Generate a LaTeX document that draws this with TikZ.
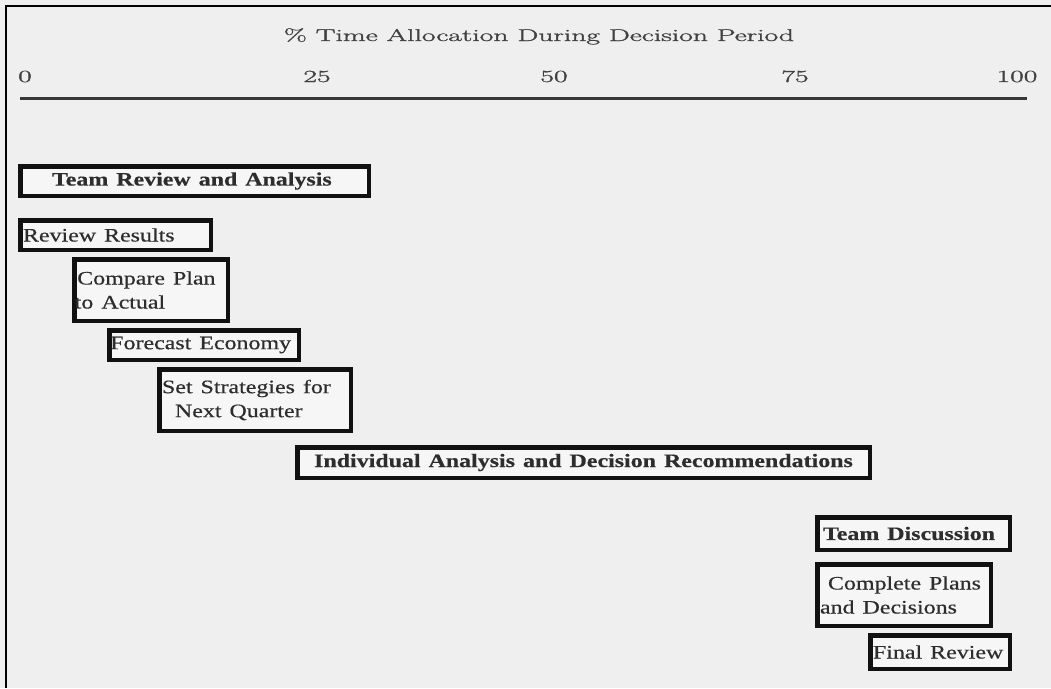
\documentclass[tikz,border=0pt]{standalone}
\usepackage{fontspec}
\usepackage{graphicx}
\newfontfamily\boxfont{Liberation Serif}[FakeBold=0.4]
\newfontfamily\lblfont{Latin Modern Roman}[FakeBold=1.2]
\definecolor{bgc}{RGB}{239,239,239}
\definecolor{boxfill}{RGB}{246,246,246}
\definecolor{boxline}{RGB}{17,17,17}
\definecolor{txtc}{RGB}{45,45,45}
\definecolor{lblc}{RGB}{65,65,65}
\definecolor{axisc}{RGB}{55,55,55}
\newcommand\sx[1]{\scalebox{1.26}[1]{#1}}
\newcommand\tx[1]{\scalebox{1.74}[1]{#1}}
\begin{document}
\begin{tikzpicture}[x=1pt,y=-1pt,
  box/.style={draw=boxline, line width=4.5pt, fill=boxfill, inner ysep=0pt,
    font=\boxfont\fontsize{19}{24}\selectfont, text=txtc, align=left},
  lbl/.style={font=\lblfont\fontsize{17}{20}\selectfont, text=lblc, inner sep=0pt, anchor=base},
  axisline/.style={draw=axisc, line width=3pt},
  frame/.style={draw=black, line width=1.5pt}
]
\fill[bgc] (0,0) rectangle (1051,688);
\useasboundingbox (0,0) rectangle (1051,688);

% outer frame
\coordinate (fBL) at (6,688);
\coordinate (fTL) at (6,6);
\coordinate (fTR) at (1051,6);
\draw[frame] (fBL) -- (fTL) -- (fTR);

% title and scale
\node[lbl] (title) at (539,41) {\tx{\% Time Allocation During Decision Period}};
\node[lbl] (t0) at (25,82) {\tx{0}};
\node[lbl] (t25) at (317,82) {\tx{25}};
\node[lbl] (t50) at (554,82) {\tx{50}};
\node[lbl] (t75) at (795,82) {\tx{75}};
\node[lbl] (t100) at (1017,82) {\tx{100}};
\coordinate (axL) at (20,98);
\coordinate (axR) at (1027,98);
\draw[axisline] (axL) -- (axR);

% activity boxes
\node[box, inner xsep=31.75pt, text width=285pt, minimum height=29.5pt] (tra) at (194.5,181)
  {\sx{\bfseries Team Review and Analysis}};
\node[box, inner xsep=2.75pt, text width=185pt, minimum height=29.5pt] (rr) at (115.5,235)
  {\sx{Review Results}};
\node[box, inner xsep=0.5pt, text width=152.5pt, minimum height=61.5pt] (cpa) at (151,290)
  {\hspace*{2.5pt}\sx{Compare Plan}\\\sx{to Actual}};
\node[box, inner xsep=1pt, text width=187.5pt, minimum height=29.5pt] (fe) at (204,345)
  {\sx{Forecast Economy}};
\node[box, inner xsep=2.75pt, text width=186pt, minimum height=61.5pt] (ssq) at (255,400)
  {\sx{Set Strategies for}\\\hspace*{13pt}\sx{Next Quarter}};
\node[box, align=center, inner xsep=3pt, text width=566.5pt, minimum height=30.5pt] (iadr) at (583.5,462.5)
  {\sx{\bfseries Individual Analysis and Decision Recommendations}};
\node[box, inner xsep=5.75pt, text width=181pt, minimum height=32.5pt] (td) at (913.5,533.5)
  {\sx{\bfseries Team Discussion}};
\node[box, inner xsep=2.75pt, text width=168pt, minimum height=61.5pt] (cpd) at (904,595)
  {\hspace*{8pt}\sx{Complete Plans}\\\sx{and Decisions}};
\node[box, inner xsep=2.75pt, text width=134pt, minimum height=33.5pt] (fr) at (940,652)
  {\sx{Final Review}};
\end{tikzpicture}
\end{document}
